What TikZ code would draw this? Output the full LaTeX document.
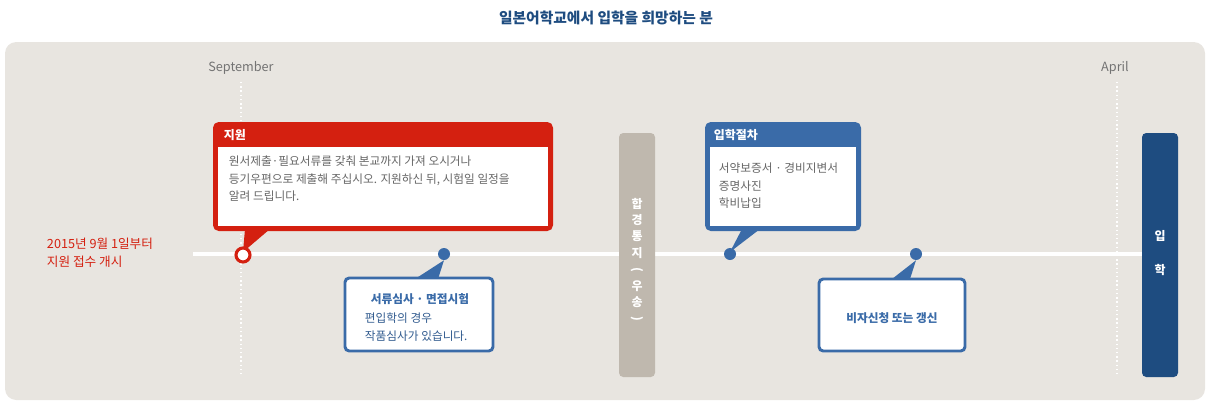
\documentclass[tikz,border=0pt]{standalone}
\usepackage{fontspec}
\setmainfont{Noto Sans CJK KR}
\usetikzlibrary{positioning}
\definecolor{panelbg}{HTML}{E8E5E0}
\definecolor{stepred}{HTML}{D42010}
\definecolor{stepblue}{HTML}{3A6BA8}
\definecolor{navy}{HTML}{1E4C80}
\definecolor{notebar}{HTML}{BFB8AE}
\definecolor{bodygray}{HTML}{666666}
\tikzset{
  body/.style={font=\fontsize{8.3}{12.5}\selectfont,text=bodygray,align=left,anchor=north west},
  head/.style={font=\fontsize{8.5}{10}\selectfont\bfseries,text=white,anchor=west},
  month/.style={font=\fontsize{9}{10}\selectfont,text=black!55},
  dot/.style={circle,fill=stepblue,inner sep=0pt,minimum size=12*0.025cm}
}
\begin{document}
\begin{tikzpicture}[x=0.025cm,y=-0.025cm]
\useasboundingbox (0,0) rectangle (1212,408);
\fill[panelbg,rounded corners=8] (5,42) rectangle (1205,400);
\node[font=\fontsize{10.5}{12}\selectfont\bfseries,text=navy] (title) at (606,18) {일본어학교에서 입학을 희망하는 분};

% months
\node[month] (sep) at (241,68) {September};
\node[month] (apr) at (1115,68) {April};
\draw[white,line width=1pt,dotted] (241,82) -- (241,375);
\draw[white,line width=1pt,dotted] (1117,82) -- (1117,375);

% timeline
\draw[white,line width=2.8pt] (193,254) -- (1145,254);
\node[text=stepred,font=\fontsize{9}{13}\selectfont,align=left] (start) at (100,253) {2015년 9월 1일부터\\지원 접수 개시};

% 지원
\fill[stepred,rounded corners=4] (213,122) rectangle (553,231);
\fill[stepred] (245,229) -- (270,229) -- (243,252) -- cycle;
\fill[white] (218,147) rectangle (548,226);
\node[head] (apply) at (219,135) {지원};
\node[body] (applytxt) at (224,151) {원서제출·필요서류를 갖춰 본교까지 가져 오시거나\\등기우편으로 제출해 주십시오. 지원하신 뒤, 시험일 일정을\\알려 드립니다.};
\node[circle,draw=stepred,fill=white,line width=2.2pt,minimum size=14*0.025cm,inner sep=0pt] (c0) at (243,255) {};

% 서류심사
\node[dot] (d1) at (444,254) {};
\fill[stepblue] (415,279) -- (438,279) -- (d1.south) -- cycle;
\draw[stepblue,fill=white,line width=2.1pt,rounded corners=3] (345,278) rectangle (493,351);
\node[font=\fontsize{8.3}{10}\selectfont\bfseries,text=stepblue] (exam) at (420,299) {서류심사 · 면접시험};
\node[body,text=stepblue!85!black] (examtxt) at (360,308) {편입학의 경우\\작품심사가 있습니다.};

% 합격통지
\fill[notebar,rounded corners=3] (619,133) rectangle (655,377);
\foreach \ch/\r [count=\i] in {합/0,경/0,통/0,지/0,{(}/-90,우/0,송/0,{)}/-90}
  \node[text=white,font=\fontsize{8.5}{10}\selectfont\bfseries,rotate=\r] (n\i) at (637,187+\i*16.5) {\ch};

% 입학절차
\fill[stepblue,rounded corners=4] (705,122) rectangle (861,231);
\fill[stepblue] (742,229) -- (760,229) -- (730,252) -- cycle;
\fill[white] (710,147) rectangle (856,226);
\node[head] (proc) at (709,135) {입학절차};
\node[body] (proctxt) at (714,158) {서약보증서 · 경비지변서\\증명사진\\학비납입};
\node[dot] (d2) at (730,254) {};

% 비자
\node[dot] (d3) at (916,254) {};
\fill[stepblue] (892,279) -- (910,279) -- (d3.south) -- cycle;
\draw[stepblue,fill=white,line width=2.1pt,rounded corners=3] (819,279) rectangle (965,351);
\node[font=\fontsize{8.3}{10}\selectfont\bfseries,text=stepblue] (visa) at (892,318) {비자신청 또는 갱신};

% 입학
\fill[navy,rounded corners=3] (1142,133) rectangle (1178,377);
\node[text=white,font=\fontsize{8.5}{10}\selectfont\bfseries] (e1) at (1160,236) {입};
\node[text=white,font=\fontsize{8.5}{10}\selectfont\bfseries] (e2) at (1160,270) {학};
\end{tikzpicture}
\end{document}
